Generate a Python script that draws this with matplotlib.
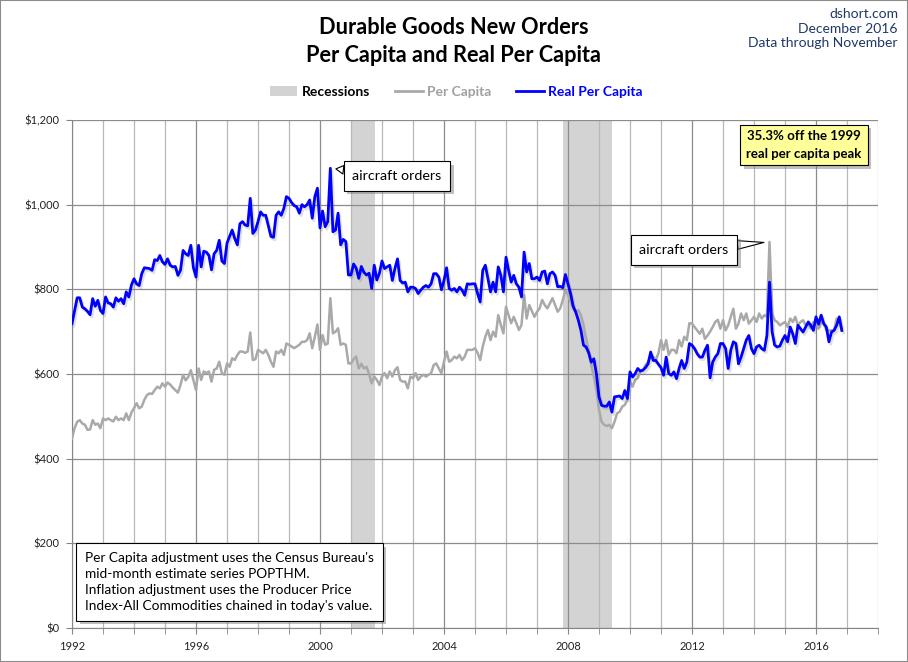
import numpy as np
import matplotlib.pyplot as plt
import matplotlib.patheffects as pe
from matplotlib.patches import Patch, Rectangle
from matplotlib.lines import Line2D
from matplotlib.ticker import FuncFormatter

plt.rcParams['font.family'] = ['Lato', 'DejaVu Sans']

# monthly data, Jan 1992 - Nov 2016
start_year = 1992
per_capita = [
    448, 472, 487, 491, 483, 480, 468, 469, 491, 480, 483, 472,
    495, 491, 495, 491, 488, 499, 491, 495, 491, 507, 491, 509,
    519, 531, 519, 523, 539, 550, 554, 553, 562, 570, 566, 578,
    570, 580, 575, 568, 562, 556, 574, 598, 585, 593, 609, 586,
    562, 613, 586, 606, 602, 606, 582, 610, 613, 629, 602, 598,
    625, 617, 637, 633, 645, 653, 653, 650, 653, 698, 633, 635,
    657, 653, 649, 657, 645, 629, 617, 653, 649, 657, 645, 672,
    669, 665, 661, 665, 669, 676, 676, 680, 696, 661, 688, 717,
    657, 692, 669, 672, 779, 696, 700, 708, 669, 672, 669, 625,
    625, 635, 641, 613, 624, 613, 617, 600, 578, 594, 586, 574,
    594, 602, 590, 606, 594, 609, 616, 586, 582, 582, 566, 594,
    590, 602, 586, 594, 598, 594, 598, 602, 621, 625, 613, 602,
    629, 653, 629, 633, 641, 637, 645, 633, 641, 657, 657, 657,
    661, 650, 633, 665, 688, 704, 680, 700, 688, 739, 716, 696,
    759, 739, 720, 735, 720, 704, 716, 787, 731, 763, 749, 735,
    747, 755, 775, 763, 755, 767, 779, 763, 747, 755, 775, 798,
    787, 770, 755, 747, 751, 739, 716, 684, 657, 621, 594, 562,
    515, 487, 480, 477, 480, 472, 487, 507, 511, 523, 527, 539,
    582, 570, 586, 590, 606, 609, 621, 629, 641, 641, 633, 649,
    680, 657, 680, 645, 657, 657, 649, 680, 665, 688, 680, 720,
    719, 711, 703, 695, 707, 683, 691, 700, 711, 723, 728, 707,
    727, 703, 715, 735, 754, 707, 719, 743, 727, 743, 719, 727,
    735, 723, 743, 731, 739, 735, 912, 743, 727, 723, 715, 719,
    723, 711, 731, 723, 735, 715, 723, 727, 715, 719, 707, 723,
    719, 707, 723, 719, 703, 703, 703, 703, 731, 727, 703,
]
real_per_capita = [
    719, 750, 780, 780, 758, 754, 748, 740, 778, 760, 774, 750,
    743, 782, 768, 766, 758, 780, 772, 778, 766, 794, 782, 810,
    825, 813, 809, 837, 851, 850, 849, 845, 870, 868, 880, 865,
    859, 872, 857, 853, 854, 833, 845, 892, 884, 880, 904, 851,
    829, 904, 853, 890, 888, 880, 846, 884, 892, 916, 867, 861,
    909, 925, 940, 920, 905, 955, 960, 952, 950, 1015, 932, 940,
    960, 983, 975, 975, 950, 925, 923, 975, 983, 975, 991, 1019,
    1015, 1005, 998, 995, 980, 1000, 995, 1000, 1011, 968, 1019, 1039,
    945, 985, 948, 960, 1086, 936, 940, 980, 905, 918, 913, 834,
    834, 860, 850, 826, 854, 840, 834, 838, 802, 857, 822, 838,
    867, 849, 853, 857, 821, 849, 872, 821, 815, 817, 794, 805,
    805, 802, 790, 798, 805, 809, 805, 813, 837, 837, 829, 799,
    821, 851, 802, 798, 802, 794, 805, 798, 786, 813, 812, 813,
    813, 790, 770, 845, 857, 825, 794, 817, 794, 853, 833, 794,
    876, 845, 817, 833, 813, 805, 782, 888, 841, 861, 825, 825,
    829, 821, 841, 843, 813, 837, 841, 833, 806, 807, 804, 835,
    813, 790, 760, 746, 727, 703, 668, 664, 650, 628, 636, 600,
    546, 526, 524, 524, 534, 510, 546, 547, 548, 542, 561, 542,
    605, 593, 601, 613, 607, 609, 615, 624, 652, 632, 632, 623,
    615, 597, 640, 601, 597, 605, 589, 613, 632, 613, 628, 672,
    668, 660, 648, 640, 640, 656, 668, 591, 628, 640, 648, 672,
    672, 660, 613, 656, 676, 672, 624, 640, 660, 680, 691, 660,
    648, 664, 668, 660, 656, 691, 817, 700, 668, 664, 666, 680,
    691, 676, 711, 695, 672, 715, 707, 699, 711, 723, 715, 703,
    735, 718, 739, 719, 711, 676, 699, 703, 715, 735, 703,
]
recession_start = [2001.0, 2007.83]
recession_end = [2001.79, 2009.42]
tick_years = [1992, 1996, 2000, 2004, 2008, 2012, 2016]
y_ticks = [0, 200, 400, 600, 800, 1000, 1200]

t = start_year + np.arange(len(per_capita)) / 12.0

fig = plt.figure(figsize=(9.08, 6.62), dpi=100)
ax = fig.add_axes([72/908, 34/662, 806/908, 508/662])

for s, e in zip(recession_start, recession_end):
    ax.axvspan(s, e, color='#D3D3D3', lw=0, zorder=0.3)

ax.plot(t, per_capita, color='#A9A9A9', lw=1.8, zorder=3)
ax.plot(t, real_per_capita, color='#0000FF', lw=2.0, zorder=4,
        path_effects=[pe.SimpleLineShadow(offset=(1.2, -1.8), shadow_color='#707070', alpha=0.22),
                      pe.Normal()])

ax.set_xlim(1992, 2018)
ax.set_ylim(0, 1200)
ax.set_xticks(tick_years)
ax.set_xticks(range(1992, 2019), minor=True)
ax.set_yticks(y_ticks)
ax.yaxis.set_major_formatter(FuncFormatter(lambda v, p: '${:,.0f}'.format(v)))
ax.set_axisbelow(True)
ax.grid(which='major', axis='x', color='#8C8C8C', lw=0.9)
ax.grid(which='minor', axis='x', color='#B8B8B8', lw=0.9)
ax.grid(which='major', axis='y', color='#8C8C8C', lw=0.9)
ax.tick_params(which='both', direction='out', color='#868686', labelsize=8, labelcolor='#222222')
ax.tick_params(which='major', length=4, pad=5)
ax.tick_params(which='minor', length=4)
for side in ['top', 'right']:
    ax.spines[side].set_visible(False)
for side in ['left', 'bottom']:
    ax.spines[side].set_color('#868686')

# titles
fig.text(454/908, 1-27/662, 'Durable Goods New Orders', ha='center', va='center',
         fontsize=15.7, fontweight='bold')
fig.text(454/908, 1-55/662, 'Per Capita and Real Per Capita', ha='center', va='center',
         fontsize=15.7, fontweight='bold')
for txt, yy in zip(['dshort.com', 'December 2016', 'Data through November'], [14, 29, 43]):
    fig.text(898/908, 1-yy/662, txt, ha='right', va='center', fontsize=10, color='#1F3864')

# legend
handles = [Patch(fc='#D3D3D3', ec='none'),
           Line2D([], [], color='#A9A9A9', lw=2),
           Line2D([], [], color='#0000FF', lw=2)]
leg = fig.legend(handles, ['Recessions', 'Per Capita', 'Real Per Capita'], ncol=3,
                 loc='center', bbox_to_anchor=(456/908, 1-92/662), frameon=False,
                 handlelength=2.0, handletextpad=0.3, columnspacing=1.8,
                 prop={'weight': 'bold', 'size': 10})
for txt, c in zip(leg.get_texts(), ['black', '#A0A0A0', '#0000FF']):
    txt.set_color(c)

shadow = [pe.SimplePatchShadow(offset=(2.5, -2.5), shadow_rgbFace='#808080', alpha=0.5), pe.Normal()]
box = dict(boxstyle='square,pad=0.6', fc='white', ec='black', lw=0.8)
arrow = dict(arrowstyle='wedge,tail_width=0.6', fc='white', ec='black', lw=0.8, shrinkA=0, shrinkB=4)

i1 = int(np.argmax(real_per_capita))
a1 = ax.annotate('aircraft orders', xy=(t[i1], real_per_capita[i1]),
                 xytext=(397/908, 1-176/662), textcoords='figure fraction',
                 ha='center', va='center', fontsize=10.3, bbox=box, arrowprops=arrow, zorder=6)
a1.get_bbox_patch().set_path_effects(shadow)

i2 = int(np.argmax(per_capita))
a2 = ax.annotate('aircraft orders', xy=(t[i2], per_capita[i2]),
                 xytext=(684/908, 1-250/662), textcoords='figure fraction',
                 ha='center', va='center', fontsize=10.3, bbox=box, arrowprops=arrow, zorder=6)
a2.get_bbox_patch().set_path_effects(shadow)

peak_txt = fig.text(804/908, 1-145/662, '35.3% off the 1999\nreal per capita peak',
                    ha='center', va='center', fontsize=9.5, fontweight='bold', linespacing=1.5,
                    bbox=dict(boxstyle='square,pad=0.45', fc='#FFFF99', ec='black', lw=0.8))
peak_txt.get_bbox_patch().set_path_effects(shadow)

note = ("Per Capita adjustment uses the Census Bureau's\n"
        "mid-month estimate series POPTHM.\n"
        "Inflation adjustment uses the Producer Price\n"
        "Index-All Commodities chained in today's value.")
note_txt = fig.text(85/908, 1-582/662, note, ha='left', va='center', fontsize=9.8, linespacing=1.4,
                    bbox=dict(boxstyle='square,pad=0.65', fc='white', ec='black', lw=0.8))
note_txt.get_bbox_patch().set_path_effects(shadow)

fig.patches.append(Rectangle((0, 0), 1, 1, transform=fig.transFigure, fill=False,
                             ec='#8C8C8C', lw=1.5))

fig.savefig('out.png', dpi=100)
